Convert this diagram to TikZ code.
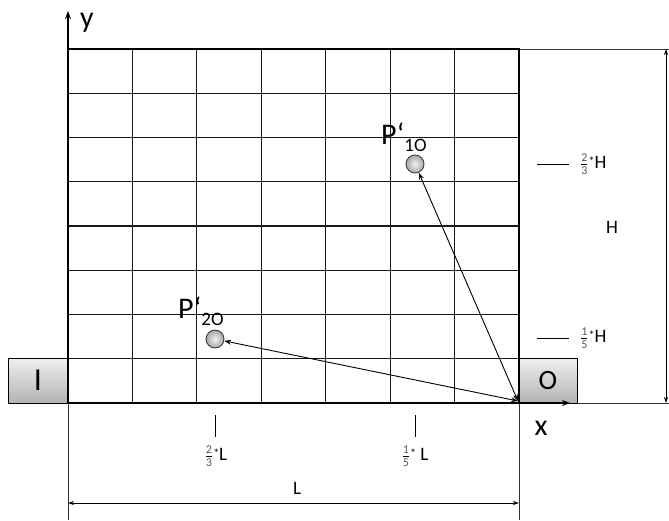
\documentclass[tikz,border=0pt]{standalone}
\usepackage{fontspec}
\setmainfont{Carlito}
\usetikzlibrary{arrows.meta}
\newcommand{\fr}[2]{\ensuremath{\frac{\mbox{\fontsize{12}{12}\selectfont\color{black!65}#1}}{\mbox{\fontsize{12}{12}\selectfont\color{black!65}#2}}}}
\begin{document}
\begin{tikzpicture}[x=1pt,y=-1pt,
  gridline/.style={line width=1.2pt, black!90},
  border/.style={line width=2.6pt},
  thinline/.style={line width=0.9pt, black!80},
  dim/.style={line width=0.9pt, {Stealth[length=6pt,width=4pt]}-{Stealth[length=6pt,width=4pt]}},
  vec/.style={line width=0.9pt, {Stealth[length=7pt,width=5pt]}-{Stealth[length=7pt,width=5pt]}},
  portbox/.style={draw, line width=0.9pt, top color=black!6, bottom color=black!30, minimum height=45pt, inner sep=0pt, font=\fontsize{28}{28}\selectfont},
  pt/.style={circle, draw=black!75, line width=0.9pt, inner color=black!5, outer color=black!35, minimum size=18pt, inner sep=0pt},
  lbl/.style={inner sep=0pt},
  tick/.style={line width=0.9pt}]
\useasboundingbox (0,0) rectangle (669,520);
% grid
\foreach \i in {1,...,6} \draw[gridline] ({68+\i*451/7},49) -- ({68+\i*451/7},403);
\foreach \j in {1,...,7} \draw[gridline] (68,{49+\j*354/8}) -- (519,{49+\j*354/8});
% extension lines
\draw[thinline] (519,49) -- (669,49);
\draw[thinline] (519,403) -- (669,403);
\draw[thinline] (68,403) -- (68,520);
\draw[thinline] (519,403) -- (519,520);
% boxes
\node[portbox, minimum width=60pt, font=\fontsize{32}{32}\selectfont] (I) at (38,380.5) {I};
\node[portbox, minimum width=58pt] (O) at (548,380.5) {O};
% border
\draw[border] (68,49) rectangle (519,403);
% axes
\coordinate (org) at (68,403);
\coordinate (ytip) at (68,11);
\coordinate (xtip) at (570,403);
\coordinate (corner) at (519,403);
\draw[line width=1.2pt, -{Stealth[length=8pt,width=6pt]}] (org) -- (ytip);
\draw[line width=1.2pt, -{Stealth[length=8pt,width=6pt]}] (corner) -- (xtip);
\node[lbl, font=\fontsize{30}{30}\selectfont] (ylab) at (87,23) {y};
\node[lbl, font=\fontsize{30}{30}\selectfont] (xlab) at (541,428) {x};
% dimension arrows
\coordinate (htop) at (666,49);
\coordinate (hbot) at (666,403);
\draw[dim] (htop) -- (hbot);
\node[lbl, font=\fontsize{19}{19}\selectfont] (Hlab) at (612,227) {H};
\coordinate (lleft) at (68,503);
\coordinate (lright) at (519,503);
\draw[dim] (lleft) -- (lright);
\node[lbl, font=\fontsize{19}{19}\selectfont] (Llab) at (297,488) {L};
% points
\node[pt] (p10) at (415,164) {};
\node[pt] (p20) at (215,339) {};
\node[lbl, font=\fontsize{30}{30}\selectfont, anchor=base west] (p10l) at (381,144) {P‘\raisebox{-7pt}{\fontsize{19}{19}\selectfont 1O}};
\node[lbl, font=\fontsize{30}{30}\selectfont, anchor=base west] (p20l) at (178,318) {P‘\raisebox{-7pt}{\fontsize{19}{19}\selectfont 2O}};
\coordinate (src) at (518,401);
\draw[vec] (src) -- (p10);
\draw[vec] (src) -- (p20);
% right ticks
\coordinate (h1a) at (537,164); \coordinate (h1b) at (569,164);
\coordinate (h2a) at (537,338); \coordinate (h2b) at (569,338);
\draw[tick] (h1a) -- (h1b);
\draw[tick] (h2a) -- (h2b);
\node[lbl, anchor=west, font=\fontsize{19}{19}\selectfont] (h1l) at (580,164) {\fr{2}{3}\raisebox{3pt}{\fontsize{12}{12}\selectfont*}H};
\node[lbl, anchor=west, font=\fontsize{19}{19}\selectfont] (h2l) at (580,338) {\fr{1}{5}\raisebox{3pt}{\fontsize{12}{12}\selectfont*}H};
% bottom ticks
\coordinate (l1a) at (215,415); \coordinate (l1b) at (215,437);
\coordinate (l2a) at (415,415); \coordinate (l2b) at (415,437);
\draw[tick] (l1a) -- (l1b);
\draw[tick] (l2a) -- (l2b);
\node[lbl, font=\fontsize{19}{19}\selectfont] (l1l) at (216,456) {\fr{2}{3}\raisebox{3pt}{\fontsize{12}{12}\selectfont*}L};
\node[lbl, font=\fontsize{19}{19}\selectfont] (l2l) at (415,456) {\fr{1}{5}\raisebox{3pt}{\fontsize{12}{12}\selectfont*} L};
\end{tikzpicture}
\end{document}
